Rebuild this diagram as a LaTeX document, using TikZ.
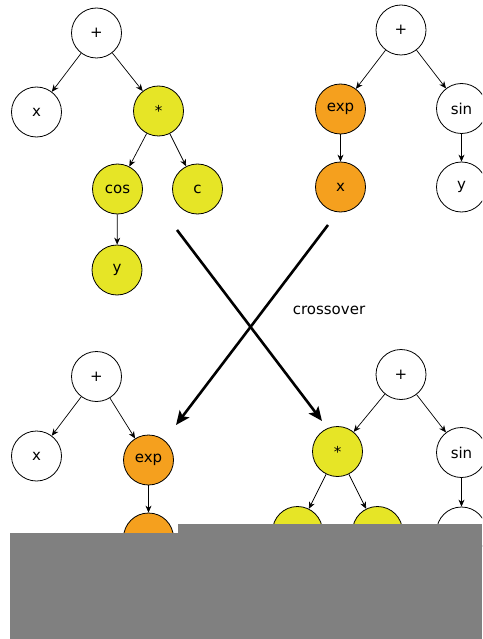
\documentclass[tikz,border=0pt]{standalone}
\usepackage{fontspec}
\setmainfont{DejaVu Sans}
\usetikzlibrary{arrows.meta}
\definecolor{ylw}{HTML}{E6E526}
\definecolor{org}{HTML}{F5A01E}
\definecolor{gry}{HTML}{808080}
\begin{document}
\begin{tikzpicture}[x=1pt,y=-1pt,
  tnode/.style={circle,draw=black,line width=0.8pt,minimum size=50pt,inner sep=0pt,font=\fontsize{15}{18}\selectfont},
  wn/.style={tnode,fill=white},
  yn/.style={tnode,fill=ylw},
  on/.style={tnode,fill=org},
  edge/.style={-{Stealth[length=7pt,width=6pt]},line width=0.7pt},
  cross/.style={-{Stealth[length=14pt,width=12pt,inset=3pt]},line width=2.6pt}]
\useasboundingbox (0,0) rectangle (482,639);
\clip (0,0) rectangle (482,639);
% top-left tree
\node[wn] (a) at (96.5,33) {+};
\node[wn] (ax) at (36.5,112) {x};
\node[yn] (am) at (158.5,111) {*};
\node[yn] (acos) at (117.5,189) {cos};
\node[yn] (ac) at (197.5,189) {c};
\node[yn] (ay) at (117,270) {y};
\draw[edge] (a) -- (ax);
\draw[edge] (a) -- (am);
\draw[edge] (am) -- (acos);
\draw[edge] (am) -- (ac);
\draw[edge] (acos) -- (ay);
% top-right tree
\node[wn] (b) at (401,30) {+};
\node[on] (bexp) at (340.5,109) {exp};
\node[wn] (bsin) at (461.5,108.5) {sin};
\node[on] (bx) at (340.5,187) {x};
\node[wn] (by) at (461.5,187) {y};
\draw[edge] (b) -- (bexp);
\draw[edge] (b) -- (bsin);
\draw[edge] (bexp) -- (bx);
\draw[edge] (bsin) -- (by);
% crossover
\coordinate (c1s) at (177,230);
\coordinate (c1e) at (322,421);
\coordinate (c2s) at (328,225);
\coordinate (c2e) at (176,425);
\draw[cross] (c1s) -- (c1e);
\draw[cross] (c2s) -- (c2e);
\node[font=\fontsize{15}{18}\selectfont] (lbl) at (329,310) {crossover};
% bottom-left tree
\node[wn] (d) at (96.5,376.5) {+};
\node[wn] (dx) at (36.5,456) {x};
\node[on] (dexp) at (148.5,460) {exp};
\node[on] (dxx) at (148.5,538) {};
\draw[edge] (d) -- (dx);
\draw[edge] (d) -- (dexp);
\draw[edge] (dexp) -- (dxx);
% bottom-right tree
\node[wn] (e) at (401,374.5) {+};
\node[yn] (em) at (337.5,451.5) {*};
\node[wn] (esin) at (461.5,452.5) {sin};
\node[yn] (ecos) at (297.5,531.5) {};
\node[yn] (ec) at (377.5,531.5) {};
\node[wn] (ey) at (461.5,532) {};
\draw[edge] (e) -- (em);
\draw[edge] (e) -- (esin);
\draw[edge] (em) -- (ecos);
\draw[edge] (em) -- (ec);
\draw[edge] (esin) -- (ey);
% grey cover
\fill[gry] (10,533) rectangle (482,639);
\fill[gry] (178,524) rectangle (482,639);
\end{tikzpicture}
\end{document}
